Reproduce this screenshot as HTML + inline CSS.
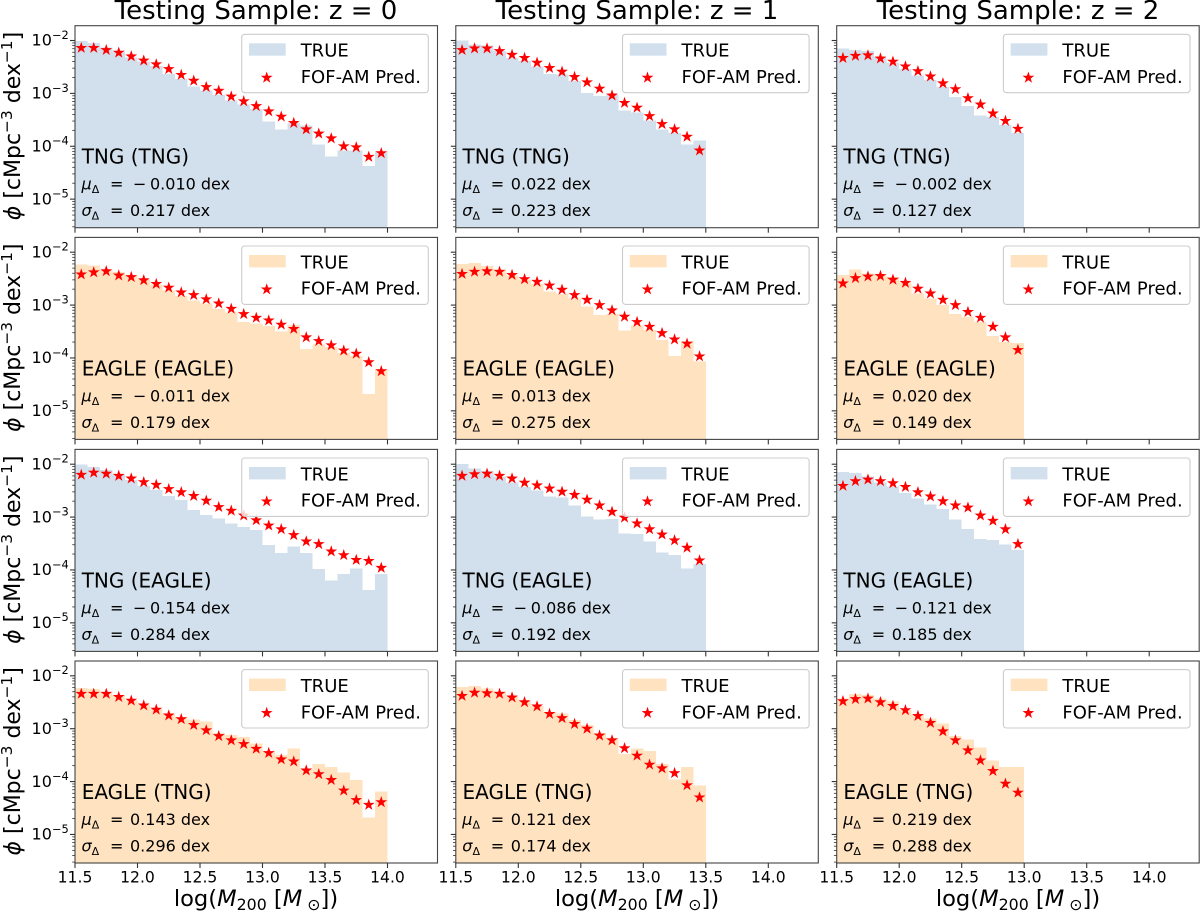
<!DOCTYPE html>
<html lang="en">
<head>
<meta charset="utf-8">
<title>Testing Sample halo mass functions</title>
<style>
html,body{margin:0;padding:0;background:#fff;}
svg{display:block;font-family:"DejaVu Sans","Liberation Sans",sans-serif;fill:#000;}
.title{font-size:26px;text-anchor:middle;}
.ylab{font-size:22px;text-anchor:middle;}
.xlab{font-size:22.6px;text-anchor:middle;}
.lab{font-size:20px;}
.m{font-size:16px;}
.i{font-style:italic;}
.leg{font-size:18px;}
.box{fill:#fff;fill-opacity:.8;stroke:#ccc;stroke-width:1.1;}
.sp{fill:none;stroke:#444;stroke-width:1.1;}
</style>
</head>
<body>
<svg id="figure" xmlns="http://www.w3.org/2000/svg" width="1200" height="912" viewBox="0 0 1200 912">
<text class="title" x="256" y="19">Testing Sample: z = 0</text>
<text class="title" x="637" y="19">Testing Sample: z = 1</text>
<text class="title" x="1018" y="19">Testing Sample: z = 2</text>

<!-- Row 1 -->
<g id="p00" transform="translate(75,25.7)">
<g id="marks00"></g>
<text class="lab" x="6.7" y="138">TNG (TNG)</text>
<text class="m" x="6.5" y="164"><tspan class="i">μ</tspan><tspan font-size="11" dy="3.5">Δ</tspan><tspan x="35" dy="-3.5">=</tspan><tspan x="58">−</tspan><tspan x="75">0.010 dex</tspan></text>
<text class="m" x="6.5" y="190.5"><tspan class="i">σ</tspan><tspan font-size="11" dy="3.5">Δ</tspan><tspan x="35" dy="-3.5">=</tspan><tspan x="55">0.217 dex</tspan></text>
<g><rect class="box" x="166.7" y="8.6" width="186.6" height="58.4" rx="3"></rect><rect x="174" y="17.6" width="36.7" height="12.4" fill="#d1e0ec"></rect><polygon fill="#f00" transform="translate(191.7,52)" points="0,-6.2 1.41,-1.94 5.9,-1.92 2.28,.74 3.64,5.02 0,2.4 -3.64,5.02 -2.28,.74 -5.9,-1.92 -1.41,-1.94"></polygon><text class="leg" x="225.7" y="31">TRUE</text><text class="leg" x="225.7" y="57.3">FOF-AM Pred.</text></g>
<g id="axes00"></g>
</g>
<g id="p01" transform="translate(455.8,25.7)">
<g id="marks01"></g>
<text class="lab" x="6.7" y="138">TNG (TNG)</text>
<text class="m" x="6.5" y="164"><tspan class="i">μ</tspan><tspan font-size="11" dy="3.5">Δ</tspan><tspan x="35" dy="-3.5">=</tspan><tspan x="55">0.022 dex</tspan></text>
<text class="m" x="6.5" y="190.5"><tspan class="i">σ</tspan><tspan font-size="11" dy="3.5">Δ</tspan><tspan x="35" dy="-3.5">=</tspan><tspan x="55">0.223 dex</tspan></text>
<g><rect class="box" x="166.7" y="8.6" width="186.6" height="58.4" rx="3"></rect><rect x="174" y="17.6" width="36.7" height="12.4" fill="#d1e0ec"></rect><polygon fill="#f00" transform="translate(191.7,52)" points="0,-6.2 1.41,-1.94 5.9,-1.92 2.28,.74 3.64,5.02 0,2.4 -3.64,5.02 -2.28,.74 -5.9,-1.92 -1.41,-1.94"></polygon><text class="leg" x="225.7" y="31">TRUE</text><text class="leg" x="225.7" y="57.3">FOF-AM Pred.</text></g>
<g id="axes01"></g>
</g>
<g id="p02" transform="translate(836.7,25.7)">
<g id="marks02"></g>
<text class="lab" x="6.7" y="138">TNG (TNG)</text>
<text class="m" x="6.5" y="164"><tspan class="i">μ</tspan><tspan font-size="11" dy="3.5">Δ</tspan><tspan x="35" dy="-3.5">=</tspan><tspan x="58">−</tspan><tspan x="75">0.002 dex</tspan></text>
<text class="m" x="6.5" y="190.5"><tspan class="i">σ</tspan><tspan font-size="11" dy="3.5">Δ</tspan><tspan x="35" dy="-3.5">=</tspan><tspan x="55">0.127 dex</tspan></text>
<g><rect class="box" x="166.7" y="8.6" width="186.6" height="58.4" rx="3"></rect><rect x="174" y="17.6" width="36.7" height="12.4" fill="#d1e0ec"></rect><polygon fill="#f00" transform="translate(191.7,52)" points="0,-6.2 1.41,-1.94 5.9,-1.92 2.28,.74 3.64,5.02 0,2.4 -3.64,5.02 -2.28,.74 -5.9,-1.92 -1.41,-1.94"></polygon><text class="leg" x="225.7" y="31">TRUE</text><text class="leg" x="225.7" y="57.3">FOF-AM Pred.</text></g>
<g id="axes02"></g>
</g>

<!-- Row 2 -->
<g id="p10" transform="translate(75,237.4)">
<g id="marks10"></g>
<text class="lab" x="6.7" y="138">EAGLE (EAGLE)</text>
<text class="m" x="6.5" y="164"><tspan class="i">μ</tspan><tspan font-size="11" dy="3.5">Δ</tspan><tspan x="35" dy="-3.5">=</tspan><tspan x="58">−</tspan><tspan x="75">0.011 dex</tspan></text>
<text class="m" x="6.5" y="190.5"><tspan class="i">σ</tspan><tspan font-size="11" dy="3.5">Δ</tspan><tspan x="35" dy="-3.5">=</tspan><tspan x="55">0.179 dex</tspan></text>
<g><rect class="box" x="166.7" y="8.6" width="186.6" height="58.4" rx="3"></rect><rect x="174" y="17.6" width="36.7" height="12.4" fill="#ffe2bf"></rect><polygon fill="#f00" transform="translate(191.7,52)" points="0,-6.2 1.41,-1.94 5.9,-1.92 2.28,.74 3.64,5.02 0,2.4 -3.64,5.02 -2.28,.74 -5.9,-1.92 -1.41,-1.94"></polygon><text class="leg" x="225.7" y="31">TRUE</text><text class="leg" x="225.7" y="57.3">FOF-AM Pred.</text></g>
<g id="axes10"></g>
</g>
<g id="p11" transform="translate(455.8,237.4)">
<g id="marks11"></g>
<text class="lab" x="6.7" y="138">EAGLE (EAGLE)</text>
<text class="m" x="6.5" y="164"><tspan class="i">μ</tspan><tspan font-size="11" dy="3.5">Δ</tspan><tspan x="35" dy="-3.5">=</tspan><tspan x="55">0.013 dex</tspan></text>
<text class="m" x="6.5" y="190.5"><tspan class="i">σ</tspan><tspan font-size="11" dy="3.5">Δ</tspan><tspan x="35" dy="-3.5">=</tspan><tspan x="55">0.275 dex</tspan></text>
<g><rect class="box" x="166.7" y="8.6" width="186.6" height="58.4" rx="3"></rect><rect x="174" y="17.6" width="36.7" height="12.4" fill="#ffe2bf"></rect><polygon fill="#f00" transform="translate(191.7,52)" points="0,-6.2 1.41,-1.94 5.9,-1.92 2.28,.74 3.64,5.02 0,2.4 -3.64,5.02 -2.28,.74 -5.9,-1.92 -1.41,-1.94"></polygon><text class="leg" x="225.7" y="31">TRUE</text><text class="leg" x="225.7" y="57.3">FOF-AM Pred.</text></g>
<g id="axes11"></g>
</g>
<g id="p12" transform="translate(836.7,237.4)">
<g id="marks12"></g>
<text class="lab" x="6.7" y="138">EAGLE (EAGLE)</text>
<text class="m" x="6.5" y="164"><tspan class="i">μ</tspan><tspan font-size="11" dy="3.5">Δ</tspan><tspan x="35" dy="-3.5">=</tspan><tspan x="55">0.020 dex</tspan></text>
<text class="m" x="6.5" y="190.5"><tspan class="i">σ</tspan><tspan font-size="11" dy="3.5">Δ</tspan><tspan x="35" dy="-3.5">=</tspan><tspan x="55">0.149 dex</tspan></text>
<g><rect class="box" x="166.7" y="8.6" width="186.6" height="58.4" rx="3"></rect><rect x="174" y="17.6" width="36.7" height="12.4" fill="#ffe2bf"></rect><polygon fill="#f00" transform="translate(191.7,52)" points="0,-6.2 1.41,-1.94 5.9,-1.92 2.28,.74 3.64,5.02 0,2.4 -3.64,5.02 -2.28,.74 -5.9,-1.92 -1.41,-1.94"></polygon><text class="leg" x="225.7" y="31">TRUE</text><text class="leg" x="225.7" y="57.3">FOF-AM Pred.</text></g>
<g id="axes12"></g>
</g>

<!-- Row 3 -->
<g id="p20" transform="translate(75,449.4)">
<g id="marks20"></g>
<text class="lab" x="6.7" y="138">TNG (EAGLE)</text>
<text class="m" x="6.5" y="164"><tspan class="i">μ</tspan><tspan font-size="11" dy="3.5">Δ</tspan><tspan x="35" dy="-3.5">=</tspan><tspan x="58">−</tspan><tspan x="75">0.154 dex</tspan></text>
<text class="m" x="6.5" y="190.5"><tspan class="i">σ</tspan><tspan font-size="11" dy="3.5">Δ</tspan><tspan x="35" dy="-3.5">=</tspan><tspan x="55">0.284 dex</tspan></text>
<g><rect class="box" x="166.7" y="8.6" width="186.6" height="58.4" rx="3"></rect><rect x="174" y="17.6" width="36.7" height="12.4" fill="#d1e0ec"></rect><polygon fill="#f00" transform="translate(191.7,52)" points="0,-6.2 1.41,-1.94 5.9,-1.92 2.28,.74 3.64,5.02 0,2.4 -3.64,5.02 -2.28,.74 -5.9,-1.92 -1.41,-1.94"></polygon><text class="leg" x="225.7" y="31">TRUE</text><text class="leg" x="225.7" y="57.3">FOF-AM Pred.</text></g>
<g id="axes20"></g>
</g>
<g id="p21" transform="translate(455.8,449.4)">
<g id="marks21"></g>
<text class="lab" x="6.7" y="138">TNG (EAGLE)</text>
<text class="m" x="6.5" y="164"><tspan class="i">μ</tspan><tspan font-size="11" dy="3.5">Δ</tspan><tspan x="35" dy="-3.5">=</tspan><tspan x="58">−</tspan><tspan x="75">0.086 dex</tspan></text>
<text class="m" x="6.5" y="190.5"><tspan class="i">σ</tspan><tspan font-size="11" dy="3.5">Δ</tspan><tspan x="35" dy="-3.5">=</tspan><tspan x="55">0.192 dex</tspan></text>
<g><rect class="box" x="166.7" y="8.6" width="186.6" height="58.4" rx="3"></rect><rect x="174" y="17.6" width="36.7" height="12.4" fill="#d1e0ec"></rect><polygon fill="#f00" transform="translate(191.7,52)" points="0,-6.2 1.41,-1.94 5.9,-1.92 2.28,.74 3.64,5.02 0,2.4 -3.64,5.02 -2.28,.74 -5.9,-1.92 -1.41,-1.94"></polygon><text class="leg" x="225.7" y="31">TRUE</text><text class="leg" x="225.7" y="57.3">FOF-AM Pred.</text></g>
<g id="axes21"></g>
</g>
<g id="p22" transform="translate(836.7,449.4)">
<g id="marks22"></g>
<text class="lab" x="6.7" y="138">TNG (EAGLE)</text>
<text class="m" x="6.5" y="164"><tspan class="i">μ</tspan><tspan font-size="11" dy="3.5">Δ</tspan><tspan x="35" dy="-3.5">=</tspan><tspan x="58">−</tspan><tspan x="75">0.121 dex</tspan></text>
<text class="m" x="6.5" y="190.5"><tspan class="i">σ</tspan><tspan font-size="11" dy="3.5">Δ</tspan><tspan x="35" dy="-3.5">=</tspan><tspan x="55">0.185 dex</tspan></text>
<g><rect class="box" x="166.7" y="8.6" width="186.6" height="58.4" rx="3"></rect><rect x="174" y="17.6" width="36.7" height="12.4" fill="#d1e0ec"></rect><polygon fill="#f00" transform="translate(191.7,52)" points="0,-6.2 1.41,-1.94 5.9,-1.92 2.28,.74 3.64,5.02 0,2.4 -3.64,5.02 -2.28,.74 -5.9,-1.92 -1.41,-1.94"></polygon><text class="leg" x="225.7" y="31">TRUE</text><text class="leg" x="225.7" y="57.3">FOF-AM Pred.</text></g>
<g id="axes22"></g>
</g>

<!-- Row 4 -->
<g id="p30" transform="translate(75,661)">
<g id="marks30"></g>
<text class="lab" x="6.7" y="138">EAGLE (TNG)</text>
<text class="m" x="6.5" y="164"><tspan class="i">μ</tspan><tspan font-size="11" dy="3.5">Δ</tspan><tspan x="35" dy="-3.5">=</tspan><tspan x="55">0.143 dex</tspan></text>
<text class="m" x="6.5" y="190.5"><tspan class="i">σ</tspan><tspan font-size="11" dy="3.5">Δ</tspan><tspan x="35" dy="-3.5">=</tspan><tspan x="55">0.296 dex</tspan></text>
<g><rect class="box" x="166.7" y="8.6" width="186.6" height="58.4" rx="3"></rect><rect x="174" y="17.6" width="36.7" height="12.4" fill="#ffe2bf"></rect><polygon fill="#f00" transform="translate(191.7,52)" points="0,-6.2 1.41,-1.94 5.9,-1.92 2.28,.74 3.64,5.02 0,2.4 -3.64,5.02 -2.28,.74 -5.9,-1.92 -1.41,-1.94"></polygon><text class="leg" x="225.7" y="31">TRUE</text><text class="leg" x="225.7" y="57.3">FOF-AM Pred.</text></g>
<g id="axes30"></g>
</g>
<g id="p31" transform="translate(455.8,661)">
<g id="marks31"></g>
<text class="lab" x="6.7" y="138">EAGLE (TNG)</text>
<text class="m" x="6.5" y="164"><tspan class="i">μ</tspan><tspan font-size="11" dy="3.5">Δ</tspan><tspan x="35" dy="-3.5">=</tspan><tspan x="55">0.121 dex</tspan></text>
<text class="m" x="6.5" y="190.5"><tspan class="i">σ</tspan><tspan font-size="11" dy="3.5">Δ</tspan><tspan x="35" dy="-3.5">=</tspan><tspan x="55">0.174 dex</tspan></text>
<g><rect class="box" x="166.7" y="8.6" width="186.6" height="58.4" rx="3"></rect><rect x="174" y="17.6" width="36.7" height="12.4" fill="#ffe2bf"></rect><polygon fill="#f00" transform="translate(191.7,52)" points="0,-6.2 1.41,-1.94 5.9,-1.92 2.28,.74 3.64,5.02 0,2.4 -3.64,5.02 -2.28,.74 -5.9,-1.92 -1.41,-1.94"></polygon><text class="leg" x="225.7" y="31">TRUE</text><text class="leg" x="225.7" y="57.3">FOF-AM Pred.</text></g>
<g id="axes31"></g>
</g>
<g id="p32" transform="translate(836.7,661)">
<g id="marks32"></g>
<text class="lab" x="6.7" y="138">EAGLE (TNG)</text>
<text class="m" x="6.5" y="164"><tspan class="i">μ</tspan><tspan font-size="11" dy="3.5">Δ</tspan><tspan x="35" dy="-3.5">=</tspan><tspan x="55">0.219 dex</tspan></text>
<text class="m" x="6.5" y="190.5"><tspan class="i">σ</tspan><tspan font-size="11" dy="3.5">Δ</tspan><tspan x="35" dy="-3.5">=</tspan><tspan x="55">0.288 dex</tspan></text>
<g><rect class="box" x="166.7" y="8.6" width="186.6" height="58.4" rx="3"></rect><rect x="174" y="17.6" width="36.7" height="12.4" fill="#ffe2bf"></rect><polygon fill="#f00" transform="translate(191.7,52)" points="0,-6.2 1.41,-1.94 5.9,-1.92 2.28,.74 3.64,5.02 0,2.4 -3.64,5.02 -2.28,.74 -5.9,-1.92 -1.41,-1.94"></polygon><text class="leg" x="225.7" y="31">TRUE</text><text class="leg" x="225.7" y="57.3">FOF-AM Pred.</text></g>
<g id="axes32"></g>
</g>

<!-- Y axis titles -->
<text class="ylab" transform="translate(20,126) rotate(-90)"><tspan class="i">ϕ</tspan> [cMpc<tspan font-size="15.4" dy="-8">−3</tspan><tspan dy="8"> dex</tspan><tspan font-size="15.4" dy="-8">−1</tspan><tspan dy="8">]</tspan></text>
<text class="ylab" transform="translate(20,337.7) rotate(-90)"><tspan class="i">ϕ</tspan> [cMpc<tspan font-size="15.4" dy="-8">−3</tspan><tspan dy="8"> dex</tspan><tspan font-size="15.4" dy="-8">−1</tspan><tspan dy="8">]</tspan></text>
<text class="ylab" transform="translate(20,549.7) rotate(-90)"><tspan class="i">ϕ</tspan> [cMpc<tspan font-size="15.4" dy="-8">−3</tspan><tspan dy="8"> dex</tspan><tspan font-size="15.4" dy="-8">−1</tspan><tspan dy="8">]</tspan></text>
<text class="ylab" transform="translate(20,761.3) rotate(-90)"><tspan class="i">ϕ</tspan> [cMpc<tspan font-size="15.4" dy="-8">−3</tspan><tspan dy="8"> dex</tspan><tspan font-size="15.4" dy="-8">−1</tspan><tspan dy="8">]</tspan></text>

<!-- X axis titles -->
<text class="xlab" x="256" y="906">log(<tspan class="i">M</tspan><tspan font-size="15.8" dy="4">200</tspan><tspan dy="-4"> [</tspan><tspan class="i">M</tspan><tspan font-size="15.8" dy="4"> ⊙</tspan><tspan dy="-4">])</tspan></text>
<text class="xlab" x="637" y="906">log(<tspan class="i">M</tspan><tspan font-size="15.8" dy="4">200</tspan><tspan dy="-4"> [</tspan><tspan class="i">M</tspan><tspan font-size="15.8" dy="4"> ⊙</tspan><tspan dy="-4">])</tspan></text>
<text class="xlab" x="1018" y="906">log(<tspan class="i">M</tspan><tspan font-size="15.8" dy="4">200</tspan><tspan dy="-4"> [</tspan><tspan class="i">M</tspan><tspan font-size="15.8" dy="4"> ⊙</tspan><tspan dy="-4">])</tspan></text>
</svg>

<script>
// Bin left edges in log10(M200)
const binLefts = [11.5,11.6,11.7,11.8,11.9,12.0,12.1,12.2,12.3,12.4,12.5,12.6,12.7,12.8,12.9,13.0,13.1,13.2,13.3,13.4,13.5,13.6,13.7,13.8,13.9];
const binWidth = 0.1;
const xTicks = [11.5,12.0,12.5,13.0,13.5,14.0];
const xTickLabels = ["11.5","12.0","12.5","13.0","13.5","14.0"];
const yTickExponents = [-2,-3,-4,-5];
const xLimits = [11.5,14.4];
const yLogLimits = [-5.54,-1.72];

// log10(phi). "true" = histogram, "pred" = stars
const trueTngTngZ0 = [-2.01,-2.05,-2.13,-2.21,-2.32,-2.40,-2.48,-2.63,-2.73,-2.87,-2.95,-3.03,-3.13,-3.21,-3.30,-3.53,-3.68,-3.56,-3.61,-3.97,-4.19,-4.08,-4.08,-4.37,-4.10];
const predTngTngZ0 = [-2.14,-2.14,-2.18,-2.23,-2.30,-2.38,-2.45,-2.54,-2.65,-2.76,-2.88,-2.95,-3.06,-3.15,-3.24,-3.34,-3.44,-3.56,-3.68,-3.76,-3.85,-4.00,-4.02,-4.20,-4.13];
const trueTngTngZ1 = [-2.00,-2.08,-2.09,-2.20,-2.33,-2.39,-2.49,-2.63,-2.64,-2.77,-2.99,-3.05,-3.02,-3.32,-3.36,-3.51,-3.68,-3.75,-3.97,-3.89];
const predTngTngZ1 = [-2.18,-2.15,-2.15,-2.20,-2.27,-2.33,-2.42,-2.52,-2.59,-2.69,-2.79,-2.91,-3.04,-3.18,-3.27,-3.43,-3.58,-3.68,-3.82,-4.08];
const trueTngTngZ2 = [-2.15,-2.18,-2.20,-2.31,-2.42,-2.54,-2.66,-2.75,-2.88,-3.07,-3.24,-3.42,-3.45,-3.60,-3.75];
const predTngTngZ2 = [-2.33,-2.29,-2.28,-2.34,-2.40,-2.49,-2.58,-2.68,-2.81,-2.92,-3.09,-3.21,-3.38,-3.52,-3.67];

const trueEagleEagleZ0 = [-2.23,-2.25,-2.33,-2.37,-2.44,-2.52,-2.61,-2.72,-2.83,-2.91,-2.97,-3.07,-3.14,-3.32,-3.35,-3.40,-3.50,-3.38,-3.83,-3.75,-3.79,-3.91,-3.96,-4.68,-4.21];
const predEagleEagleZ0 = [-2.42,-2.38,-2.36,-2.44,-2.47,-2.53,-2.60,-2.67,-2.76,-2.81,-2.89,-2.97,-3.07,-3.17,-3.24,-3.29,-3.37,-3.45,-3.61,-3.68,-3.76,-3.86,-3.92,-4.08,-4.25];
const trueEagleEagleZ1 = [-2.22,-2.20,-2.26,-2.33,-2.44,-2.52,-2.60,-2.74,-2.79,-2.88,-3.03,-3.19,-3.17,-3.48,-3.39,-3.47,-3.66,-3.96,-3.68,-4.07];
const predEagleEagleZ1 = [-2.41,-2.37,-2.36,-2.37,-2.43,-2.51,-2.56,-2.63,-2.71,-2.81,-2.90,-3.00,-3.10,-3.22,-3.32,-3.41,-3.53,-3.65,-3.73,-3.97];
const trueEagleEagleZ2 = [-2.43,-2.33,-2.40,-2.41,-2.47,-2.57,-2.78,-2.88,-3.00,-3.17,-3.23,-3.32,-3.58,-3.70,-3.72];
const predEagleEagleZ2 = [-2.59,-2.49,-2.46,-2.45,-2.52,-2.58,-2.69,-2.78,-2.90,-3.00,-3.13,-3.24,-3.41,-3.61,-3.85];

const trueTngEagleZ0 = [-2.01,-2.05,-2.11,-2.19,-2.30,-2.41,-2.49,-2.60,-2.68,-2.87,-2.96,-3.03,-3.12,-3.19,-3.24,-3.53,-3.68,-3.56,-3.68,-3.98,-4.20,-4.08,-3.97,-4.38,-4.08];
const predTngEagleZ0 = [-2.20,-2.16,-2.18,-2.22,-2.27,-2.34,-2.39,-2.47,-2.53,-2.60,-2.69,-2.81,-2.88,-2.97,-3.06,-3.16,-3.23,-3.34,-3.46,-3.51,-3.65,-3.72,-3.81,-3.83,-3.96];
const trueTngEagleZ1 = [-2.00,-2.08,-2.13,-2.23,-2.35,-2.43,-2.50,-2.61,-2.63,-2.78,-2.99,-3.05,-3.04,-3.31,-3.32,-3.46,-3.67,-3.72,-3.97,-3.89];
const predTngEagleZ1 = [-2.22,-2.19,-2.18,-2.22,-2.27,-2.35,-2.40,-2.46,-2.52,-2.58,-2.67,-2.78,-2.90,-3.01,-3.12,-3.23,-3.33,-3.44,-3.58,-3.82];
const trueTngEagleZ2 = [-2.15,-2.17,-2.23,-2.35,-2.42,-2.54,-2.65,-2.76,-2.85,-3.05,-3.23,-3.41,-3.43,-3.52,-3.62];
const predTngEagleZ2 = [-2.41,-2.32,-2.29,-2.32,-2.36,-2.43,-2.53,-2.61,-2.70,-2.78,-2.82,-2.97,-3.07,-3.23,-3.51];

const trueEagleTngZ0 = [-2.23,-2.25,-2.31,-2.37,-2.47,-2.54,-2.63,-2.72,-2.78,-2.83,-2.86,-3.08,-3.12,-3.16,-3.28,-3.42,-3.50,-3.37,-3.76,-3.67,-3.72,-3.83,-3.97,-4.68,-4.19];
const predEagleTngZ0 = [-2.34,-2.34,-2.34,-2.40,-2.47,-2.56,-2.64,-2.75,-2.82,-2.93,-3.03,-3.14,-3.22,-3.29,-3.38,-3.46,-3.58,-3.62,-3.79,-3.86,-3.97,-4.17,-4.35,-4.44,-4.39];
const trueEagleTngZ1 = [-2.21,-2.19,-2.24,-2.30,-2.39,-2.47,-2.57,-2.68,-2.71,-2.84,-2.93,-3.08,-3.18,-3.48,-3.37,-3.42,-3.67,-3.96,-3.72,-4.07];
const predEagleTngZ1 = [-2.38,-2.32,-2.33,-2.34,-2.41,-2.50,-2.58,-2.72,-2.80,-2.91,-3.00,-3.13,-3.22,-3.37,-3.51,-3.68,-3.75,-3.84,-4.07,-4.30];
const trueEagleTngZ2 = [-2.43,-2.34,-2.36,-2.43,-2.49,-2.65,-2.74,-2.81,-2.90,-3.14,-3.20,-3.36,-3.60,-3.72,-3.72];
const predEagleTngZ2 = [-2.48,-2.44,-2.43,-2.50,-2.57,-2.65,-2.76,-2.89,-3.05,-3.22,-3.41,-3.60,-3.80,-4.04,-4.21];

const panelKeys = ["00","01","02","10","11","12","20","21","22","30","31","32"];
const panelTrue = [trueTngTngZ0,trueTngTngZ1,trueTngTngZ2,trueEagleEagleZ0,trueEagleEagleZ1,trueEagleEagleZ2,trueTngEagleZ0,trueTngEagleZ1,trueTngEagleZ2,trueEagleTngZ0,trueEagleTngZ1,trueEagleTngZ2];
const panelPred = [predTngTngZ0,predTngTngZ1,predTngTngZ2,predEagleEagleZ0,predEagleEagleZ1,predEagleEagleZ2,predTngEagleZ0,predTngEagleZ1,predTngEagleZ2,predEagleTngZ0,predEagleTngZ1,predEagleTngZ2];
const panelFill = ["#d1e0ec","#d1e0ec","#d1e0ec","#ffe2bf","#ffe2bf","#ffe2bf","#d1e0ec","#d1e0ec","#d1e0ec","#ffe2bf","#ffe2bf","#ffe2bf"];

const PANEL_W = 362.5;
const PANEL_H = 202;
const NS = "http://www.w3.org/2000/svg";

function xScale(v){ return (v - xLimits[0]) / (xLimits[1] - xLimits[0]) * PANEL_W; }
function yScale(v){ return (yLogLimits[1] - v) / (yLogLimits[1] - yLogLimits[0]) * PANEL_H; }
function make(tag, attrs){
  const el = document.createElementNS(NS, tag);
  for (const k in attrs) el.setAttribute(k, attrs[k]);
  return el;
}
function starPoints(cx, cy){
  const R = 6.2, r = 2.4, out = [];
  for (let i = 0; i < 10; i++){
    const a = -Math.PI / 2 + i * Math.PI / 5, rad = i % 2 ? r : R;
    out.push((cx + rad * Math.cos(a)).toFixed(2) + "," + (cy + rad * Math.sin(a)).toFixed(2));
  }
  return out.join(" ");
}

panelKeys.forEach(function(key, idx){
  const marks = document.getElementById("marks" + key);
  const axes = document.getElementById("axes" + key);
  const row = +key[0], col = +key[1];

  panelTrue[idx].forEach(function(v, i){
    const x0 = xScale(binLefts[i]), x1 = xScale(binLefts[i] + binWidth), y = yScale(v);
    const bar = make("rect", {x:x0, y:y, width:x1 - x0, height:PANEL_H - y, fill:panelFill[idx], "shape-rendering":"crispEdges"});
    
    
    marks.appendChild(bar);
  });
  panelPred[idx].forEach(function(v, i){
    const star = make("polygon", {points:starPoints(xScale(binLefts[i] + binWidth / 2), yScale(v)), fill:"#f00"});
    
    
    marks.appendChild(star);
  });

  const spine = make("rect", {class:"sp", x:0, y:0, width:PANEL_W, height:PANEL_H});
  
  
  axes.appendChild(spine);

  xTicks.forEach(function(t, i){
    const tx = xScale(t);
    const tick = make("line", {x1:tx, x2:tx, y1:PANEL_H, y2:PANEL_H + 5, stroke:"#333", "stroke-width":1.1});
    
    
    axes.appendChild(tick);
    if (row === 3){
      const lab = make("text", {x:tx, y:PANEL_H + 19.7, "text-anchor":"middle", "font-size":15.6});
      
      
      lab.textContent = xTickLabels[i];
      axes.appendChild(lab);
    }
  });

  for (let d = -6; d <= -2; d++){
    for (let m = 1; m <= 9; m++){
      const lv = d + Math.log10(m);
      if (lv < yLogLimits[0] || lv > yLogLimits[1]) continue;
      const ty = yScale(lv);
      const tick = make("line", {x1:m === 1 ? -5 : -2.8, x2:0, y1:ty, y2:ty, stroke:"#333", "stroke-width":m === 1 ? 1.1 : 0.8});
      
      
      axes.appendChild(tick);
    }
  }
  if (col === 0){
    yTickExponents.forEach(function(e){
      const lab = make("text", {x:-6.3, y:yScale(e) + 5.2, "text-anchor":"end", "font-size":16});
      
      
      const base = make("tspan", {});
      base.textContent = "10";
      const sup = make("tspan", {dy:-6.8, "font-size":11.4});
      sup.textContent = "−" + Math.abs(e);
      lab.appendChild(base);
      lab.appendChild(sup);
      axes.appendChild(lab);
    });
  }
});
</script>
</body>
</html>
